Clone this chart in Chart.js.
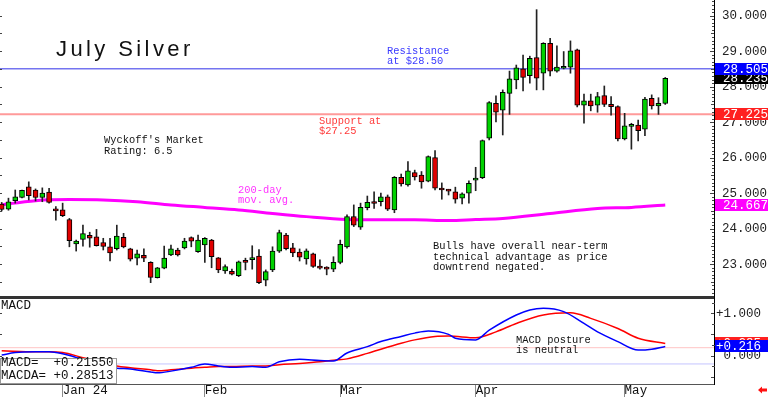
<!DOCTYPE html>
<html>
<head>
<meta charset="utf-8">
<title>July Silver</title>
<script src="https://cdn.jsdelivr.net/npm/chart.js@4.4.1/dist/chart.umd.min.js"></script>
<style>
  html, body { margin: 0; padding: 0; background: #fff; }
  #wrap { position: relative; width: 768px; height: 397px; overflow: hidden; }
  canvas { position: absolute; left: 0; }
</style>
</head>
<body>
<div id="wrap">
  <canvas id="priceChart" width="768" height="297" style="top:0"></canvas>
  <canvas id="macdChart" width="768" height="100" style="top:297px"></canvas>
</div>
<script>
// daily bars, mid Dec 2023 .. 9 May 2024
const opens = [24.69, 24.55, 24.79, 24.88, 25.18, 25.09, 24.88, 25.03, 24.54, 24.53,
  24.26, 23.57, 23.70, 23.81, 23.77, 23.61, 23.49, 23.44, 23.76, 23.43,
  23.17, 23.25, 23.05, 22.62, 22.89, 23.26, 23.40, 23.46, 23.75, 23.35,
  23.54, 23.68, 23.18, 22.81, 22.80, 22.68, 23.11, 23.13, 23.23, 22.55,
  22.84, 23.37, 23.82, 23.46, 23.34, 23.15, 23.29, 22.92, 22.87, 22.86,
  23.05, 23.49, 24.34, 24.04, 24.59, 24.73, 24.76, 24.90, 24.53, 25.45,
  25.23, 25.58, 25.51, 25.34, 26.00, 25.13, 25.08, 25.04, 24.86, 25.00,
  25.37, 25.44, 26.55, 27.53, 27.34, 27.81, 28.19, 28.50, 28.31, 28.82,
  28.38, 29.22, 28.44, 28.52, 28.55, 29.04, 27.48, 27.60, 27.48, 27.75,
  27.50, 27.44, 26.53, 26.88, 26.92, 26.80, 27.67, 27.46, 27.53];
const highs = [24.74, 24.86, 25.09, 25.09, 25.32, 25.12, 25.15, 25.14, 24.62, 24.72,
  24.29, 23.68, 24.10, 23.90, 23.98, 23.73, 23.73, 24.10, 23.87, 23.45,
  23.40, 23.43, 23.07, 22.91, 23.51, 23.54, 23.45, 23.73, 23.77, 23.82,
  23.75, 23.70, 23.19, 22.98, 22.86, 23.09, 23.17, 23.52, 23.41, 22.84,
  23.49, 23.96, 23.87, 23.59, 23.43, 23.43, 23.31, 23.12, 22.93, 23.21,
  23.68, 24.39, 24.67, 24.72, 24.92, 25.04, 25.00, 24.95, 25.47, 25.54,
  25.89, 25.65, 25.61, 26.05, 26.20, 25.29, 25.11, 25.17, 25.01, 25.35,
  25.73, 26.50, 27.58, 27.74, 27.91, 28.44, 28.61, 28.89, 28.86, 30.17,
  29.24, 29.36, 29.15, 28.99, 29.29, 29.06, 27.79, 27.79, 27.84, 28.02,
  27.72, 27.46, 27.25, 26.97, 27.06, 27.70, 27.77, 27.69, 28.26];
const lows = [24.50, 24.52, 24.72, 24.87, 24.81, 24.78, 24.76, 24.72, 24.24, 24.34,
  23.49, 23.37, 23.51, 23.48, 23.51, 23.40, 23.09, 23.40, 23.46, 23.09,
  22.98, 23.07, 22.48, 22.61, 22.87, 23.24, 23.23, 23.43, 23.49, 23.33,
  23.05, 22.90, 22.76, 22.74, 22.70, 22.65, 22.84, 22.86, 22.45, 22.39,
  22.79, 23.33, 23.40, 23.21, 23.09, 23.00, 22.91, 22.86, 22.70, 22.79,
  23.01, 23.45, 24.06, 23.98, 24.53, 24.57, 24.64, 24.51, 24.45, 25.20,
  25.20, 25.37, 25.14, 25.32, 25.09, 24.83, 24.95, 24.72, 24.70, 24.72,
  25.07, 25.41, 26.50, 27.01, 26.64, 27.22, 27.94, 27.88, 28.10, 27.91,
  27.91, 28.30, 28.41, 28.50, 28.38, 27.43, 26.97, 27.32, 27.28, 27.44,
  27.20, 26.47, 26.50, 26.24, 26.47, 26.62, 27.37, 27.22, 27.50];
const closes = [24.54, 24.76, 24.90, 25.08, 24.93, 24.88, 25.00, 24.74, 24.50, 24.37,
  23.66, 23.65, 23.86, 23.73, 23.52, 23.50, 23.32, 23.79, 23.49, 23.14,
  23.29, 23.17, 22.63, 22.90, 23.17, 23.43, 23.26, 23.65, 23.65, 23.68,
  23.73, 23.21, 22.84, 22.93, 22.72, 23.07, 23.05, 23.16, 22.48, 22.79,
  23.37, 23.89, 23.44, 23.32, 23.20, 23.38, 22.94, 22.89, 22.86, 23.05,
  23.56, 24.34, 24.10, 24.60, 24.74, 24.71, 24.90, 24.55, 25.45, 25.26,
  25.63, 25.46, 25.32, 26.03, 25.14, 25.09, 25.06, 24.83, 24.98, 25.28,
  25.42, 26.48, 27.55, 27.28, 27.84, 28.22, 28.53, 28.26, 28.80, 28.24,
  29.22, 28.44, 28.55, 28.57, 29.01, 27.48, 27.60, 27.46, 27.72, 27.50,
  27.44, 26.53, 26.90, 26.90, 26.76, 27.65, 27.46, 27.53, 28.235];

// 200-day moving average, read at a few bars
const maX    = [0, 1, 5, 10, 15, 20, 25, 30, 35, 40, 45, 51, 56, 61, 66, 70, 74, 81, 88, 93, 98];
const maVals = [24.67, 24.70, 24.79, 24.82, 24.81, 24.76, 24.67, 24.60, 24.53, 24.43, 24.34,
  24.26, 24.25, 24.25, 24.23, 24.26, 24.29, 24.43, 24.57, 24.60, 24.667];

// MACD (blue) and its average (red)
const macdX = [0, 2, 5, 7, 9, 12, 14, 17, 19, 22, 23, 25, 28, 30, 32, 34, 37, 39, 41, 44, 47,
  49, 51, 54, 56, 59, 61, 63, 66, 67, 70, 72, 76, 78, 80, 83, 86, 88, 91, 94, 96, 98];
const macdVals = [0.01, 0.07, 0.09, 0.09, 0.04, -0.10, -0.22, -0.30, -0.32, -0.39, -0.41,
  -0.37, -0.28, -0.20, -0.25, -0.28, -0.26, -0.28, -0.15, -0.09, -0.12, -0.13, 0.06, 0.21,
  0.33, 0.45, 0.53, 0.58, 0.50, 0.41, 0.37, 0.60, 0.96, 1.08, 1.12, 1.04, 0.76, 0.56, 0.33,
  0.13, 0.15, 0.2155];
const signalX = [0, 5, 7, 9, 12, 15, 17, 19, 22, 23, 25, 28, 30, 32, 34, 37, 39, 41, 44, 47,
  49, 51, 54, 56, 59, 61, 64, 66, 70, 73, 76, 80, 84, 87, 91, 94, 98];
const signalVals = [0.11, 0.09, 0.09, 0.07, -0.05, -0.16, -0.25, -0.29, -0.34, -0.36, -0.34,
  -0.30, -0.28, -0.26, -0.26, -0.25, -0.25, -0.22, -0.19, -0.15, -0.11, -0.08, 0.05, 0.15,
  0.29, 0.37, 0.45, 0.46, 0.42, 0.56, 0.76, 0.96, 1.01, 0.88, 0.64, 0.41, 0.28513];

const priceTicks = [23, 24, 25, 26, 27, 28, 29, 30];
const macdTicks = [0, 1];
const monthIdx = [9, 30, 50, 70, 92];
const monthLabels = ['Jan 24', 'Feb', 'Mar', 'Apr', 'May'];
const resistance = 28.505;
const support = 27.225;
const macdRefHigh = 0.185;
const macdRefLow = -0.20;

// axis windows
const xMin = -0.25, xMax = 105.2;
const priceMin = 22.076, priceMax = 30.442;
const macdMin = -0.675, macdMax = 1.386;

const MONO = '"Liberation Mono", "DejaVu Sans Mono", monospace';
const GREEN = '#00d200', RED = '#e00000';

function flat(v) { return [{ x: xMin, y: v }, { x: xMax, y: v }]; }
function fmtSigned(v, d) { return (v >= 0 ? '+' : '-') + Math.abs(v + 1e-9).toFixed(d); }

function note(ctx, lines, x, y, color, font, lh) {
    ctx.fillStyle = color;
    ctx.font = font;
    ctx.textAlign = 'left';
    ctx.textBaseline = 'middle';
    lines.forEach((t, i) => ctx.fillText(t, x, y + i * lh));
}

function valueBox(ctx, y, text, bg, tx) {
    ctx.fillStyle = bg;
    ctx.fillRect(715, Math.round(y) - 6, 53, 12);
    ctx.fillStyle = '#fff';
    ctx.font = '12.5px ' + MONO;
    ctx.textAlign = 'left';
    ctx.textBaseline = 'middle';
    ctx.fillText(text, tx, Math.round(y) + 0.5);
}

function killPad(s) { s.paddingTop = 0; s.paddingBottom = 0; s.paddingLeft = 0; s.paddingRight = 0; }

// --- price panel extras ---
const priceDecor = {
    id: 'priceDecor',
    afterDraw(chart) {
        const { ctx, chartArea: a, scales: { y } } = chart;
        ctx.save();
        ctx.fillStyle = '#444';
        for (let k = Math.ceil(priceMin * 10); k <= Math.floor(priceMax * 10); k++) {
            const py = Math.round(y.getPixelForValue(k / 10));
            const len = k % 10 === 0 ? 4 : (k % 5 === 0 ? 3 : 2);
            ctx.fillRect(a.right - len, py, len, 1);
            if (k % 5 === 0) ctx.fillRect(0, py, 2, 1);
        }
        ctx.fillStyle = '#333';
        ctx.fillRect(0, a.bottom - 1, a.right, 1);

        valueBox(ctx, y.getPixelForValue(closes[closes.length - 1]), closes[closes.length - 1].toFixed(3), '#000', 723);
        valueBox(ctx, y.getPixelForValue(resistance), resistance.toFixed(3), '#0000ff', 723);
        valueBox(ctx, y.getPixelForValue(support), support.toFixed(3), '#ff2020', 723);
        valueBox(ctx, y.getPixelForValue(maVals[maVals.length - 1]), maVals[maVals.length - 1].toFixed(3), '#ff00ff', 723);

        ctx.fillStyle = '#111';
        ctx.font = '22px "Liberation Sans", Arial, sans-serif';
        ctx.textBaseline = 'alphabetic';
        ctx.textAlign = 'left';
        ctx.letterSpacing = '3.4px';
        ctx.fillText('July Silver', 56, 55.5);
        ctx.letterSpacing = '0px';

        const f = '10.4px ' + MONO;
        note(ctx, ['Resistance', 'at $28.50'], 387, 51.5, '#3a3aff', f, 10);
        note(ctx, ['Support at', '$27.25'], 319, 121, '#ff3a3a', f, 10.5);
        note(ctx, ["Wyckoff's Market", 'Rating: 6.5'], 104, 140.5, '#111', f, 10.5);
        note(ctx, ['200-day', 'mov. avg.'], 238, 190, '#ff33ff', f, 10.5);
        note(ctx, ['Bulls have overall near-term', 'technical advantage as price', 'downtrend negated.'],
             433, 246.5, '#111', f, 10.3);
        ctx.restore();
    }
};

new Chart(document.getElementById('priceChart'), {
    type: 'bar',
    data: {
        datasets: [
            {
                label: 'body',
                data: opens.map((o, i) => ({ x: i, y: [o, closes[i]] })),
                backgroundColor: opens.map((o, i) => closes[i] >= o ? GREEN : RED),
                borderColor: '#000',
                borderWidth: 1,
                borderSkipped: false,
                barThickness: 5,
                minBarLength: 2,
                grouped: false,
                order: 0
            },
            {
                label: 'wick',
                data: lows.map((l, i) => ({ x: i, y: [l, highs[i]] })),
                backgroundColor: '#222',
                borderWidth: 0,
                barThickness: 1,
                grouped: false,
                order: 1
            },
            {
                type: 'line', label: '200-day',
                data: maX.map((x, i) => ({ x, y: maVals[i] })),
                borderColor: '#ff00ff', borderWidth: 3, pointRadius: 0,
                cubicInterpolationMode: 'monotone', order: 2
            },
            {
                type: 'line', label: 'resistance', data: flat(resistance),
                borderColor: '#7474f0', borderWidth: 1.5, pointRadius: 0, order: 3
            },
            {
                type: 'line', label: 'support', data: flat(support),
                borderColor: '#ff9a9a', borderWidth: 2, pointRadius: 0, order: 3
            }
        ]
    },
    options: {
        responsive: false,
        animation: false,
        events: [],
        layout: { padding: 0 },
        plugins: { legend: { display: false }, tooltip: { enabled: false } },
        scales: {
            x: { type: 'linear', display: false, min: xMin, max: xMax, offset: false, grid: { offset: false } },
            y: {
                position: 'right', min: priceMin, max: priceMax, beginAtZero: false,
                afterBuildTicks: s => { s.ticks = priceTicks.map(v => ({ value: v })); },
                afterFit: s => { s.width = 54; killPad(s); },
                ticks: { callback: v => v.toFixed(3), padding: 8, color: '#222', autoSkip: false,
                         font: { family: MONO, size: 12.5 } },
                grid: { drawOnChartArea: false, drawTicks: false },
                border: { color: '#000', width: 1 }
            }
        }
    },
    plugins: [priceDecor]
});

// --- MACD panel extras ---
const macdDecor = {
    id: 'macdDecor',
    afterDraw(chart) {
        const { ctx, chartArea: a, scales: { y } } = chart;
        ctx.save();
        ctx.fillStyle = '#444';
        for (let k = Math.ceil(macdMin * 4); k <= Math.floor(macdMax * 4); k++) {
            const py = Math.round(y.getPixelForValue(k / 4));
            ctx.fillRect(a.right - (k % 2 === 0 ? 3 : 2), py, 3, 1);
            if (k % 2 === 0) ctx.fillRect(0, py, 2, 1);
        }
        ctx.fillStyle = '#333';
        ctx.fillRect(0, 0, a.right, 2);
        ctx.fillStyle = '#555';
        ctx.fillRect(0, a.bottom, a.right, 1);

        // reading box
        ctx.fillStyle = '#fff';
        ctx.fillRect(0, 61, 117, 26);
        ctx.strokeStyle = '#999';
        ctx.lineWidth = 1;
        ctx.strokeRect(0.5, 61.5, 116, 25);
        note(ctx, ['MACD=  ' + fmtSigned(macdVals[macdVals.length - 1], 5),
                   'MACDA= ' + fmtSigned(signalVals[signalVals.length - 1], 5)],
             1, 66, '#111', '12.5px ' + MONO, 12.5);

        note(ctx, ['MACD'], 1, 8.5, '#111', '12.5px ' + MONO, 12);
        note(ctx, ['MACD posture', 'is neutral'], 516, 43, '#111', '10.4px ' + MONO, 10.5);

        valueBox(ctx, y.getPixelForValue(signalVals[signalVals.length - 1]),
                 fmtSigned(signalVals[signalVals.length - 1], 3), '#ff2020', 716);
        valueBox(ctx, y.getPixelForValue(macdVals[macdVals.length - 1]),
                 fmtSigned(macdVals[macdVals.length - 1], 3), '#0000ff', 716);

        // little red arrow, bottom right
        ctx.fillStyle = '#ff1010';
        ctx.beginPath();
        ctx.moveTo(758, 93);
        ctx.lineTo(762, 89.5);
        ctx.lineTo(762, 91.5);
        ctx.lineTo(767, 91.5);
        ctx.lineTo(767, 94.5);
        ctx.lineTo(762, 94.5);
        ctx.lineTo(762, 96.5);
        ctx.closePath();
        ctx.fill();
        ctx.restore();
    }
};

new Chart(document.getElementById('macdChart'), {
    type: 'line',
    data: {
        datasets: [
            {
                label: 'MACD',
                data: macdX.map((x, i) => ({ x, y: macdVals[i] })),
                borderColor: '#0000ff', borderWidth: 1.5, pointRadius: 0,
                cubicInterpolationMode: 'monotone', order: 0
            },
            {
                label: 'MACDA',
                data: signalX.map((x, i) => ({ x, y: signalVals[i] })),
                borderColor: '#ff0000', borderWidth: 1.5, pointRadius: 0,
                cubicInterpolationMode: 'monotone', order: 1
            },
            { label: 'hi', data: flat(macdRefHigh), borderColor: '#ffc4c4', borderWidth: 1, pointRadius: 0, order: 2 },
            { label: 'lo', data: flat(macdRefLow), borderColor: '#c4c4ff', borderWidth: 1, pointRadius: 0, order: 2 }
        ]
    },
    options: {
        responsive: false,
        animation: false,
        events: [],
        layout: { padding: 0 },
        plugins: { legend: { display: false }, tooltip: { enabled: false } },
        scales: {
            x: {
                type: 'linear', position: 'bottom', min: xMin, max: xMax, offset: false,
                afterBuildTicks: s => { s.ticks = monthIdx.map(v => ({ value: v })); },
                afterFit: s => { s.height = 13; killPad(s); },
                ticks: { callback: (v, i) => monthLabels[i], align: 'start', padding: -14,
                         autoSkip: false, maxRotation: 0, color: '#111',
                         font: { family: MONO, size: 12.5 } },
                grid: { drawOnChartArea: false, drawTicks: true, tickLength: 13, color: '#8a8a8a', offset: false },
                border: { display: false }
            },
            y: {
                position: 'right', min: macdMin, max: macdMax,
                afterBuildTicks: s => { s.ticks = macdTicks.map(v => ({ value: v })); },
                afterFit: s => { s.width = 54; killPad(s); },
                ticks: { callback: v => (v > 0 ? '+' : ' ') + v.toFixed(3), padding: 2, color: '#222',
                         autoSkip: false, font: { family: MONO, size: 12.5 } },
                grid: { drawOnChartArea: false, drawTicks: false },
                border: { color: '#000', width: 1 }
            }
        }
    },
    plugins: [macdDecor]
});
</script>
</body>
</html>
